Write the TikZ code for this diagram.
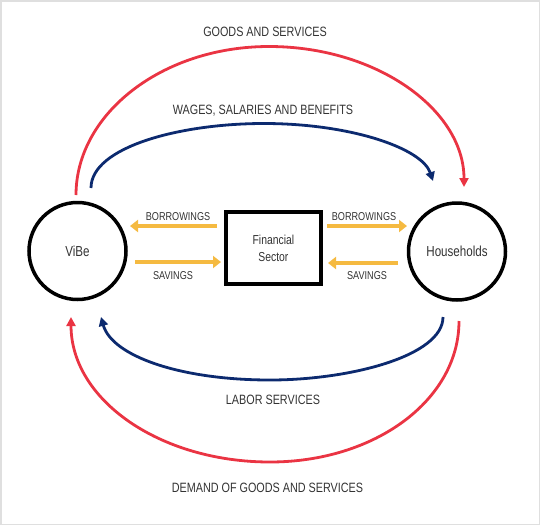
\documentclass[tikz,border=0pt]{standalone}
\usepackage{fontspec}
\setmainfont{Liberation Sans}[FakeStretch=0.8]
\usetikzlibrary{arrows.meta}
\definecolor{cred}{HTML}{EA3443}
\definecolor{cblue}{HTML}{0C2A6F}
\definecolor{cyel}{HTML}{F5BA41}
\definecolor{ctext}{HTML}{333333}
\begin{document}
\begin{tikzpicture}[x=1pt,y=-1pt,
  ent/.style={circle,draw=black,line width=3.5pt,minimum size=97pt,inner sep=0pt,text=ctext,font=\fontsize{14.5}{16}\selectfont},
  fin/.style={rectangle,draw=black,line width=3.8pt,minimum width=95pt,minimum height=72pt,align=center,text=ctext,font=\fontsize{13}{17}\selectfont},
  lbl/.style={text=ctext,font=\fontsize{13.5}{15}\selectfont,inner sep=0pt,anchor=base},
  slbl/.style={text=ctext,font=\fontsize{11.4}{13}\selectfont,inner sep=0pt,anchor=base},
  redarr/.style={draw=cred,line width=2.8pt,-{Triangle[length=9pt,width=9pt]}},
  bluearr/.style={draw=cblue,line width=2.8pt,-{Triangle[length=9pt,width=9pt]}},
  yelarr/.style={draw=cyel,line width=3.5pt,-{Triangle[length=8pt,width=12pt]}}]
\useasboundingbox (0,0) rectangle (540,525);
\draw[gray!25,line width=1.5pt] (0.75,0.75) rectangle (539.25,524.25);
\node[ent] (vibe) at (77.5,251) {ViBe};
\node[ent] (hh) at (457,251.5) {Households};
\node[fin] (fs) at (273.4,248) {Financial\\Sector};
% yellow
\coordinate (y1s) at (217,226); \coordinate (y1e) at (130,226);
\coordinate (y2s) at (135,262); \coordinate (y2e) at (221,262);
\coordinate (y3s) at (327,226); \coordinate (y3e) at (407,226);
\coordinate (y4s) at (398,263); \coordinate (y4e) at (328,263);
\draw[yelarr] (y1s) -- (y1e);
\draw[yelarr] (y2s) -- (y2e);
\draw[yelarr] (y3s) -- (y3e);
\draw[yelarr] (y4s) -- (y4e);
\node[slbl] (b1) at (178,220.7) {BORROWINGS};
\node[slbl] (s1) at (173,279) {SAVINGS};
\node[slbl] (b2) at (364,220.7) {BORROWINGS};
\node[slbl] (s2) at (367,279) {SAVINGS};
% top arcs
\coordinate (r1s) at (76,195); \coordinate (r1m) at (269,46.5); \coordinate (r1e) at (464,187);
\draw[redarr] (r1s) .. controls (76,114) and (162,46.5) .. (r1m) .. controls (377,46.5) and (464,110) .. (r1e);
\coordinate (b1s) at (91,188); \coordinate (b1m) at (264,123.5); \coordinate (b1e) at (433,181);
\draw[bluearr] (b1s) .. controls (91,147) and (180,123.5) .. (b1m) .. controls (350,123.5) and (422,148) .. (b1e);
% bottom arcs
\coordinate (b2s) at (443,317); \coordinate (b2m) at (270,380); \coordinate (b2e) at (101,317);
\draw[bluearr] (b2s) .. controls (443,356) and (350,380) .. (b2m) .. controls (180,380) and (112,356) .. (b2e);
\coordinate (r2s) at (459,321); \coordinate (r2m) at (270,462); \coordinate (r2e) at (71,317);
\draw[redarr] (r2s) .. controls (459,400) and (375,462) .. (r2m) .. controls (160,462) and (71,400) .. (r2e);
% labels
\node[lbl] (gs) at (265,36) {GOODS AND SERVICES};
\node[lbl] (ws) at (263,114.3) {WAGES, SALARIES AND BENEFITS};
\node[lbl] (ls) at (273,404.3) {LABOR SERVICES};
\node[lbl] (dg) at (267.5,492.3) {DEMAND OF GOODS AND SERVICES};
\end{tikzpicture}
\end{document}
